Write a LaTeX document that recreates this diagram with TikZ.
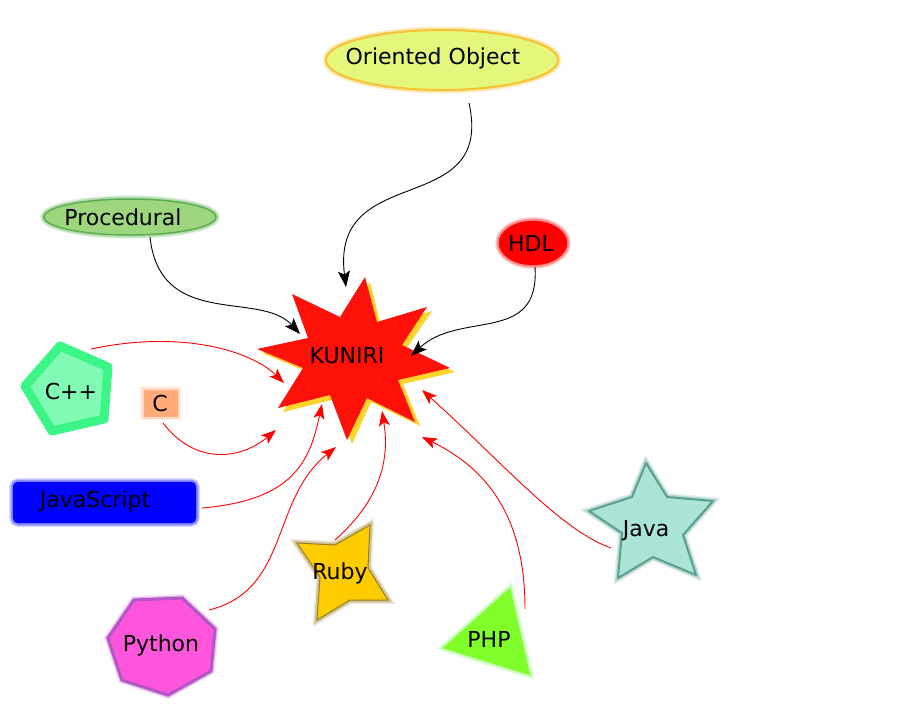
\documentclass[tikz,border=0pt]{standalone}
\usepackage{fontspec}
\setmainfont{DejaVu Sans}
\usetikzlibrary{arrows.meta}

\definecolor{ooFill}{RGB}{229,247,122}
\definecolor{ooLine}{RGB}{245,195,50}
\definecolor{procFill}{RGB}{157,214,125}
\definecolor{procLine}{RGB}{90,175,80}
\definecolor{starRed}{RGB}{255,17,10}
\definecolor{starGold}{RGB}{255,212,42}
\definecolor{cppFill}{RGB}{128,250,180}
\definecolor{cppLine}{RGB}{60,245,135}
\definecolor{cFill}{RGB}{255,170,120}
\definecolor{pyFill}{RGB}{255,85,221}
\definecolor{pyLine}{RGB}{180,85,200}
\definecolor{rubyFill}{RGB}{255,204,0}
\definecolor{rubyLine}{RGB}{150,125,30}
\definecolor{phpFill}{RGB}{128,255,42}
\definecolor{phpLine}{RGB}{150,240,120}
\definecolor{javaFill}{RGB}{170,228,214}
\definecolor{javaLine}{RGB}{90,160,143}

\begin{document}
\begin{tikzpicture}[x=1pt, y=-1pt,
        lbl/.style={inner sep=0pt, font=\fontsize{22}{26}\selectfont},
        glow/.style={preaction={draw=#1, line width=8pt, opacity=.15}, preaction={draw=#1, line width=5pt, opacity=.35}},
        blackarr/.style={black, line width=0.9pt, -{Stealth[length=16pt, width=12pt, inset=3.5pt]}},
        redarr/.style={red, line width=0.9pt, -{Stealth[length=15pt, width=11pt, inset=3.5pt]}}]
        \useasboundingbox (0,0) rectangle (901,718);
        % shapes
        \filldraw[fill=ooFill, draw=ooLine, line width=2pt, glow=ooLine] (442,60) ellipse (116 and 30);
        \filldraw[fill=procFill, draw=procLine, line width=1.5pt, glow=procLine] (130,217) ellipse (86 and 18);
        \filldraw[fill=red, draw=red, glow=red] (533,243) ellipse (34 and 22);
        \filldraw[fill=starGold, draw=none] (370,282) -- (381,326) -- (432,311) -- (406,349) -- (455,372) -- (403,384) -- (420,426) -- (371,402) -- (352,444) -- (335,399) -- (283,412) -- (308,372) -- (262,353) -- (313,342) -- (297,298) -- (345,321) -- cycle;
        \filldraw[fill=starRed, draw=none] (365,277) -- (377,322) -- (427,307) -- (402,345) -- (450,368) -- (398,380) -- (415,422) -- (367,398) -- (347,440) -- (330,395) -- (278,408) -- (303,368) -- (257,349) -- (308,338) -- (292,294) -- (340,317) -- cycle;
        \filldraw[fill=cppFill, draw=cppLine, line width=9pt, line join=round, glow=cppLine] (60,346) -- (108,367) -- (104,419) -- (52,431) -- (25,386) -- cycle;
        \filldraw[fill=cFill, draw=cFill, glow=cFill] (144,390) rectangle (177,416);
        \filldraw[fill=blue, draw=blue, rounded corners=5pt, glow=blue] (13,482) rectangle (196,523);
        \filldraw[fill=pyFill, draw=pyLine, line width=3pt, glow=pyLine] (134,600) -- (182,598) -- (215,629) -- (211,671) -- (168,695) -- (122,680) -- (108,638) -- cycle;
        \filldraw[fill=rubyFill, draw=rubyLine, line width=1pt, glow=rubyLine] (297,543) -- (335,545) -- (370,525) -- (368,568) -- (388,600) -- (350,600) -- (317,620) -- (320,577) -- cycle;
        \filldraw[fill=phpFill, draw=phpFill, glow=phpLine] (510,588) -- (530,675) -- (443,648) -- cycle;
        \filldraw[fill=javaFill, draw=javaLine, line width=2pt, line join=round, glow=javaLine] (646,463) -- (667,497) -- (713,501) -- (683,535) -- (696,575) -- (653,557) -- (618,578) -- (622,533) -- (589,511) -- (632,497) -- cycle;
        % labels
        \node[lbl] (oo) at (433,58) {Oriented Object};
        \node[lbl] (proc) at (123,217) {Procedural};
        \node[lbl] (hdl) at (531,243) {HDL};
        \node[lbl] (kuniri) at (347,356) {KUNIRI};
        \node[lbl] (cpp) at (71,391) {C++};
        \node[lbl] (c) at (160,403) {C};
        \node[lbl] (js) at (95,501) {JavaScript};
        \node[lbl] (python) at (161,645) {Python};
        \node[lbl] (ruby) at (340,573) {Ruby};
        \node[lbl] (php) at (489,639) {PHP};
        \node[lbl] (java) at (646,531) {Java};
        % connector ends
        \coordinate (oo-out) at (469,103);
        \coordinate (proc-out) at (150,237);
        \coordinate (hdl-out) at (535,267);
        \coordinate (cpp-out) at (91,349);
        \coordinate (c-out) at (163,423);
        \coordinate (js-out) at (202,508);
        \coordinate (python-out) at (209,610);
        \coordinate (ruby-out) at (335,540);
        \coordinate (php-out) at (525,609);
        \coordinate (java-out) at (611,548);
        \coordinate (k-top) at (346,287);
        \coordinate (k-ul) at (300,334);
        \coordinate (k-r) at (411,356);
        \coordinate (k-cpp) at (284,383);
        \coordinate (k-c) at (276,430);
        \coordinate (k-js) at (322,404);
        \coordinate (k-python) at (336,447);
        \coordinate (k-ruby) at (382,411);
        \coordinate (k-php) at (422,437);
        \coordinate (k-java) at (422,390);
        % connectors
        \draw[blackarr] (oo-out) .. controls (495,220) and (330,160) .. (k-top);
        \draw[blackarr] (proc-out) .. controls (160,330) and (260,290) .. (k-ul);
        \draw[blackarr] (hdl-out) .. controls (540,345) and (460,310) .. (k-r);
        \draw[redarr] (cpp-out) .. controls (180,330) and (250,350) .. (k-cpp);
        \draw[redarr] (c-out) .. controls (195,465) and (240,460) .. (k-c);
        \draw[redarr] (js-out) .. controls (295,500) and (310,460) .. (k-js);
        \draw[redarr] (python-out) .. controls (290,590) and (270,500) .. (k-python);
        \draw[redarr] (ruby-out) .. controls (380,500) and (390,460) .. (k-ruby);
        \draw[redarr] (php-out) .. controls (525,520) and (490,470) .. (k-php);
        \draw[redarr] (java-out) .. controls (560,530) and (500,460) .. (k-java);
    \end{tikzpicture}
\end{document}
